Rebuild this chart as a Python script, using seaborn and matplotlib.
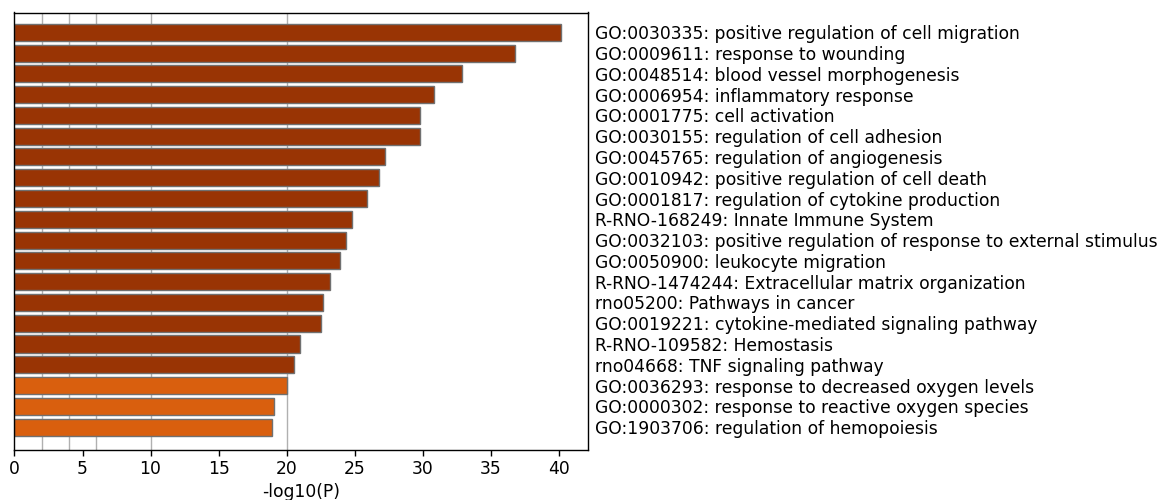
import matplotlib
matplotlib.use("Agg")
import matplotlib.pyplot as plt
import seaborn as sns
import pandas as pd

terms = [
    "GO:0030335: positive regulation of cell migration",
    "GO:0009611: response to wounding",
    "GO:0048514: blood vessel morphogenesis",
    "GO:0006954: inflammatory response",
    "GO:0001775: cell activation",
    "GO:0030155: regulation of cell adhesion",
    "GO:0045765: regulation of angiogenesis",
    "GO:0010942: positive regulation of cell death",
    "GO:0001817: regulation of cytokine production",
    "R-RNO-168249: Innate Immune System",
    "GO:0032103: positive regulation of response to external stimulus",
    "GO:0050900: leukocyte migration",
    "R-RNO-1474244: Extracellular matrix organization",
    "rno05200: Pathways in cancer",
    "GO:0019221: cytokine-mediated signaling pathway",
    "R-RNO-109582: Hemostasis",
    "rno04668: TNF signaling pathway",
    "GO:0036293: response to decreased oxygen levels",
    "GO:0000302: response to reactive oxygen species",
    "GO:1903706: regulation of hemopoiesis",
]
neg_log_p = [40.16, 36.78, 32.88, 30.80, 29.82, 29.81, 27.24, 26.82, 25.90, 24.82,
             24.34, 23.94, 23.21, 22.65, 22.56, 21.00, 20.56, 20.02, 19.04, 18.95]
bins = ["high"] * 17 + ["mid"] * 3
bin_colors = {"high": "#993404", "mid": "#D95F0E"}
grid_x = [2, 4, 6, 10, 20]

df = pd.DataFrame({"term": terms, "value": neg_log_p, "bin": bins})

sns.set_style("white")
plt.rcParams["font.family"] = ["DejaVu Sans"]
plt.rcParams["text.color"] = "black"
plt.rcParams["xtick.color"] = "black"
plt.rcParams["ytick.color"] = "black"
plt.rcParams["axes.labelcolor"] = "black"

fig = plt.figure(figsize=(11.58, 5.0), dpi=100)
ax = fig.add_axes([0.0125, 0.10, 0.4955, 0.875])

for gx in grid_x:
    ax.axvline(gx, color="#b0b0b0", linewidth=1.0, zorder=0)

sns.barplot(data=df, x="value", y="term", hue="bin", palette=bin_colors,
            orient="h", width=0.82, edgecolor="#707070", linewidth=1.0,
            saturation=1, legend=False, dodge=False, ax=ax, zorder=2)

ax.set_xlim(0, max(neg_log_p) * 1.05)
ax.set_ylim(len(terms) - 1 + 1.1, -0.95)
ax.set_xticks([0, 5, 10, 15, 20, 25, 30, 35, 40])
ax.set_xlabel("-log10(P)", fontsize=12.3, labelpad=3)
ax.set_ylabel("")
ax.yaxis.tick_right()
ax.tick_params(axis="y", length=0, pad=5, labelsize=12.3)
ax.tick_params(axis="x", length=4, width=1, direction="out", labelsize=12.3,
               bottom=True, color="black")
for s in ax.spines.values():
    s.set_visible(True)
    s.set_color("black")
    s.set_linewidth(1.0)

fig.savefig("out.png", dpi=100)
